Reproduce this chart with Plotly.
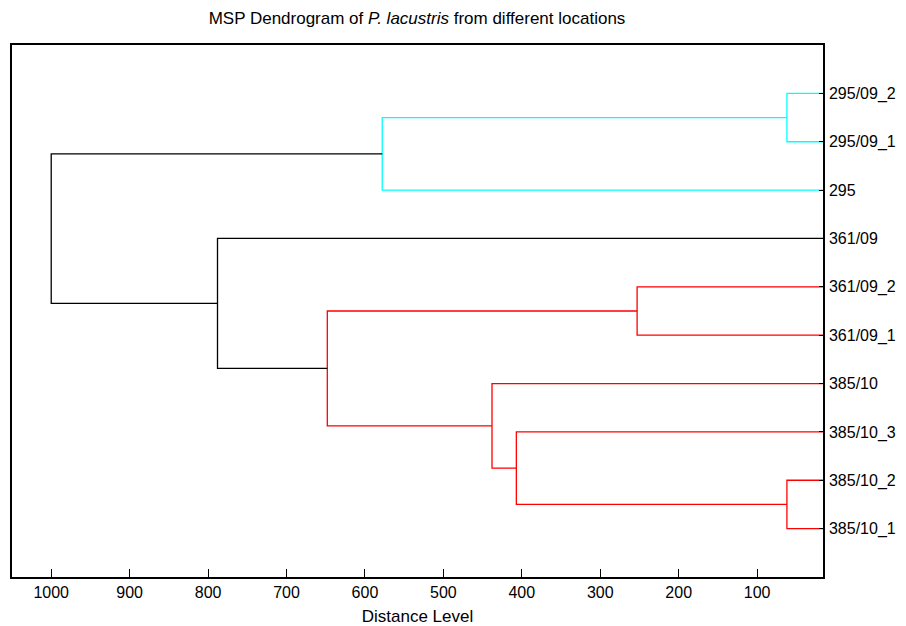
import plotly.graph_objects as go

# Leaf labels, top to bottom (positions 1..10)
leaf_labels = ["295/09_2", "295/09_1", "295", "361/09", "361/09_2",
               "361/09_1", "385/10", "385/10_3", "385/10_2", "385/10_1"]

# Merges: (left child, right child, distance level). Leaves are 0..9, new nodes 10+
merge_left = [0, 4, 8, 7, 6, 10, 11, 3, 15]
merge_right = [1, 5, 9, 12, 13, 2, 14, 16, 17]
merge_height = [62, 253, 62, 407, 438, 578, 648, 788, 1000]
merge_color = ["#00FFFF", "#FF0000", "#FF0000", "#FF0000", "#FF0000",
               "#00FFFF", "#FF0000", "#000000", "#000000"]

x_ticks = [1000, 900, 800, 700, 600, 500, 400, 300, 200, 100]
leaf_height = 0

n = len(leaf_labels)
pos = {i: i + 1 for i in range(n)}
hgt = {i: leaf_height for i in range(n)}

segs = {}
for k, (a, b, h, c) in enumerate(zip(merge_left, merge_right, merge_height, merge_color)):
    node = n + k
    xs = [hgt[a], h, h, hgt[b]]
    ys = [pos[a], pos[a], pos[b], pos[b]]
    segs.setdefault(c, ([], []))
    segs[c][0].extend(xs + [None])
    segs[c][1].extend(ys + [None])
    pos[node] = (pos[a] + pos[b]) / 2
    hgt[node] = h

fig = go.Figure()
for c, (xs, ys) in segs.items():
    fig.add_trace(go.Scatter(x=xs, y=ys, mode="lines",
                             line=dict(color=c, width=1.3),
                             hoverinfo="skip", showlegend=False))

font = "Liberation Sans, Arial, sans-serif"
W, H = 906, 626
fig.update_layout(
    width=W, height=H,
    margin=dict(l=2, r=91, t=37, b=57),
    paper_bgcolor="white", plot_bgcolor="white",
    title=dict(text="MSP Dendrogram of <i>P. lacustris</i> from different locations",
               x=409 / W, xanchor="center", y=1 - 10 / H, yanchor="middle",
               font=dict(family=font, size=17, color="black")),
    font=dict(family=font, size=16, color="black"),
    showlegend=False,
)
fig.update_xaxes(
    range=[1050, 16], tickvals=x_ticks,
    ticks="inside", ticklen=8, tickwidth=1, tickcolor="black",
    showline=True, linecolor="black", linewidth=1.5, mirror=True,
    showgrid=False, zeroline=False,
    title=dict(text="Distance Level", font=dict(family=font, size=17), standoff=10),
    tickfont=dict(family=font, size=16),
)
fig.update_yaxes(
    range=[11, 0], side="right", tickvals=list(range(1, n + 1)), ticktext=leaf_labels,
    ticks="inside", ticklen=4, tickwidth=1, tickcolor="black",
    showline=True, linecolor="black", linewidth=1.5, mirror=True,
    showgrid=False, zeroline=False, ticklabelstandoff=1,
    tickfont=dict(family=font, size=16),
)

fig.write_html("out.html")
